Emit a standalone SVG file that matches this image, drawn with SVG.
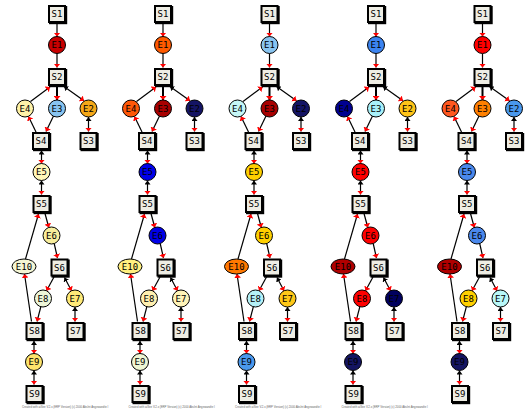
<svg xmlns="http://www.w3.org/2000/svg" width="529" height="410" viewBox="0 0 529 410">
<defs>
<style>
.bx .sh{fill:#000}
.bx .f{fill:#eeede4;stroke:#000;stroke-width:2}
.nd circle,.nd ellipse{stroke:#000;stroke-width:1}
text{font-family:"DejaVu Sans Mono","Liberation Mono",monospace;font-size:9px;text-anchor:middle;fill:#000}
.e{fill:none;stroke:#000;stroke-width:1.2}
.r{marker-end:url(#ar)}
.b{marker-start:url(#ab)}
.w{stroke-width:2}
.cr{font-family:"Liberation Sans",sans-serif;font-size:2.8px;text-anchor:start;fill:#666}
</style>
<marker id="ar" viewBox="0 0 4 7" refX="4" refY="3.5" markerWidth="4" markerHeight="7" markerUnits="userSpaceOnUse" orient="auto"><path d="M0,0 L4,3.5 L0,7 z" fill="#ff0000"/></marker>
<marker id="ab" viewBox="0 0 4 6" refX="4" refY="3" markerWidth="4" markerHeight="6" markerUnits="userSpaceOnUse" orient="auto-start-reverse"><path d="M0,0 L4,3 L0,6 z" fill="#000"/></marker>
</defs>
<rect width="529" height="410" fill="#ffffff"/>

<!-- PANEL 1 -->
<g id="panel1" transform="translate(0,0)">
<g id="p1-edges">
<path class="e r" d="M57,23.5 L57,36.5"/>
<path class="e r" d="M57,53.5 L57,67.5"/>
<path class="e r" d="M30.5,101.5 L50,87"/>
<path class="e r w" d="M57,86.5 L57,100"/>
<path class="e b r" d="M64,86.5 L84,100.8"/>
<path class="e r" d="M36,132 L28.5,116.5"/>
<path class="e r" d="M53.5,116 L46,131.5"/>
<path class="e b r" d="M88.5,117 L88.5,131.5"/>
<path class="e b r" d="M41.5,150.5 L41.5,163.5"/>
<path class="e b r" d="M41.5,180.5 L41.5,194.5"/>
<path class="e r" d="M45,213.5 L48.8,227.5"/>
<path class="e r" d="M54.2,243.5 L57.5,258"/>
<path class="e r" d="M25.5,259 L38.5,214"/>
<path class="e r" d="M31.5,321.5 L24.5,274"/>
<path class="e r" d="M54,277 L46.5,290.8"/>
<path class="e b r" d="M64.5,277.5 L71.5,290.8"/>
<path class="e r" d="M40.8,306.8 L37,321.5"/>
<path class="e b r" d="M75,307 L75,321.5"/>
<path class="e b r" d="M34,341 L34,353.5"/>
<path class="e b r" d="M34,370.5 L34,384.5"/>
</g>
<g id="p1-S1" class="bx"><rect class="sh" x="49" y="6" width="18.2" height="18.2"/><rect class="f" x="49" y="6" width="16" height="16"/><text x="57" y="17.2">S1</text></g>
<g id="p1-E1" class="nd"><circle cx="57" cy="45" r="8.5" fill="#c80000"/><text x="57" y="48.2">E1</text></g>
<g id="p1-S2" class="bx"><rect class="sh" x="49" y="69" width="18.2" height="18.2"/><rect class="f" x="49" y="69" width="16" height="16"/><text x="57" y="80.2">S2</text></g>
<g id="p1-E4" class="nd"><circle cx="25" cy="108.5" r="8.5" fill="#fff2a8"/><text x="25" y="111.7">E4</text></g>
<g id="p1-E3" class="nd"><circle cx="57" cy="108.5" r="8.5" fill="#88c4f0"/><text x="57" y="111.7">E3</text></g>
<g id="p1-E2" class="nd"><circle cx="88.5" cy="108.5" r="8.5" fill="#f5a818"/><text x="88.5" y="111.7">E2</text></g>
<g id="p1-S4" class="bx"><rect class="sh" x="33" y="133" width="18.2" height="18.2"/><rect class="f" x="33" y="133" width="16" height="16"/><text x="41" y="144.2">S4</text></g>
<g id="p1-S3" class="bx"><rect class="sh" x="80.5" y="133" width="18.2" height="18.2"/><rect class="f" x="80.5" y="133" width="16" height="16"/><text x="88.5" y="144.2">S3</text></g>
<g id="p1-E5" class="nd"><circle cx="41.5" cy="172" r="8.5" fill="#fff7b8"/><text x="41.5" y="175.2">E5</text></g>
<g id="p1-S5" class="bx"><rect class="sh" x="33.5" y="196" width="18.2" height="18.2"/><rect class="f" x="33.5" y="196" width="16" height="16"/><text x="41.5" y="207.2">S5</text></g>
<g id="p1-E6" class="nd"><circle cx="51.5" cy="235.5" r="8.5" fill="#f8ee9c"/><text x="51.5" y="238.7">E6</text></g>
<g id="p1-E10" class="nd"><ellipse cx="24" cy="266.5" rx="12" ry="7.5" fill="#f4f6d4"/><text x="24" y="269.7">E10</text></g>
<g id="p1-S6" class="bx"><rect class="sh" x="51.5" y="259.5" width="18.2" height="18.2"/><rect class="f" x="51.5" y="259.5" width="16" height="16"/><text x="59.5" y="270.7">S6</text></g>
<g id="p1-E8" class="nd"><circle cx="43" cy="298.5" r="8.5" fill="#eef6d8"/><text x="43" y="301.7">E8</text></g>
<g id="p1-E7" class="nd"><circle cx="75" cy="298.5" r="8.5" fill="#ffea78"/><text x="75" y="301.7">E7</text></g>
<g id="p1-S8" class="bx"><rect class="sh" x="26.5" y="323" width="18.2" height="18.2"/><rect class="f" x="26.5" y="323" width="16" height="16"/><text x="34.5" y="334.2">S8</text></g>
<g id="p1-S7" class="bx"><rect class="sh" x="67.5" y="323" width="18.2" height="18.2"/><rect class="f" x="67.5" y="323" width="16" height="16"/><text x="75.5" y="334.2">S7</text></g>
<g id="p1-E9" class="nd"><circle cx="34" cy="362" r="8.5" fill="#fde46c"/><text x="34" y="365.2">E9</text></g>
<g id="p1-S9" class="bx"><rect class="sh" x="26.5" y="386" width="18.2" height="18.2"/><rect class="f" x="26.5" y="386" width="16" height="16"/><text x="34.5" y="397.2">S9</text></g>
</g>

<!-- PANEL 2 -->
<g id="panel2" transform="translate(106,0)">
<g id="p2-edges">
<path class="e r" d="M57,23.5 L57,36.5"/>
<path class="e r" d="M57,53.5 L57,67.5"/>
<path class="e r" d="M30.5,101.5 L50,87"/>
<path class="e r w" d="M57,86.5 L57,100"/>
<path class="e b r" d="M64,86.5 L84,100.8"/>
<path class="e r" d="M36,132 L28.5,116.5"/>
<path class="e r" d="M53.5,116 L46,131.5"/>
<path class="e b r" d="M88.5,117 L88.5,131.5"/>
<path class="e b r" d="M41.5,150.5 L41.5,163.5"/>
<path class="e b r" d="M41.5,180.5 L41.5,194.5"/>
<path class="e r" d="M45,213.5 L48.8,227.5"/>
<path class="e r" d="M54.2,243.5 L57.5,258"/>
<path class="e r" d="M25.5,259 L38.5,214"/>
<path class="e r" d="M31.5,321.5 L24.5,274"/>
<path class="e r" d="M54,277 L46.5,290.8"/>
<path class="e b r" d="M64.5,277.5 L71.5,290.8"/>
<path class="e r" d="M40.8,306.8 L37,321.5"/>
<path class="e b r" d="M75,307 L75,321.5"/>
<path class="e b r" d="M34,341 L34,353.5"/>
<path class="e b r" d="M34,370.5 L34,384.5"/>
</g>
<g id="p2-S1" class="bx"><rect class="sh" x="49" y="6" width="18.2" height="18.2"/><rect class="f" x="49" y="6" width="16" height="16"/><text x="57" y="17.2">S1</text></g>
<g id="p2-E1" class="nd"><circle cx="57" cy="45" r="8.5" fill="#ff5a00"/><text x="57" y="48.2">E1</text></g>
<g id="p2-S2" class="bx"><rect class="sh" x="49" y="69" width="18.2" height="18.2"/><rect class="f" x="49" y="69" width="16" height="16"/><text x="57" y="80.2">S2</text></g>
<g id="p2-E4" class="nd"><circle cx="25" cy="108.5" r="8.5" fill="#ff5808"/><text x="25" y="111.7">E4</text></g>
<g id="p2-E3" class="nd"><circle cx="57" cy="108.5" r="8.5" fill="#a80000"/><text x="57" y="111.7">E3</text></g>
<g id="p2-E2" class="nd"><circle cx="88.5" cy="108.5" r="8.5" fill="#141464"/><text x="88.5" y="111.7">E2</text></g>
<g id="p2-S4" class="bx"><rect class="sh" x="33" y="133" width="18.2" height="18.2"/><rect class="f" x="33" y="133" width="16" height="16"/><text x="41" y="144.2">S4</text></g>
<g id="p2-S3" class="bx"><rect class="sh" x="80.5" y="133" width="18.2" height="18.2"/><rect class="f" x="80.5" y="133" width="16" height="16"/><text x="88.5" y="144.2">S3</text></g>
<g id="p2-E5" class="nd"><circle cx="41.5" cy="172" r="8.5" fill="#0000e8"/><text x="41.5" y="175.2">E5</text></g>
<g id="p2-S5" class="bx"><rect class="sh" x="33.5" y="196" width="18.2" height="18.2"/><rect class="f" x="33.5" y="196" width="16" height="16"/><text x="41.5" y="207.2">S5</text></g>
<g id="p2-E6" class="nd"><circle cx="51.5" cy="235.5" r="8.5" fill="#0000e8"/><text x="51.5" y="238.7">E6</text></g>
<g id="p2-E10" class="nd"><ellipse cx="24" cy="266.5" rx="12" ry="7.5" fill="#fff080"/><text x="24" y="269.7">E10</text></g>
<g id="p2-S6" class="bx"><rect class="sh" x="51.5" y="259.5" width="18.2" height="18.2"/><rect class="f" x="51.5" y="259.5" width="16" height="16"/><text x="59.5" y="270.7">S6</text></g>
<g id="p2-E8" class="nd"><circle cx="43" cy="298.5" r="8.5" fill="#fff0b0"/><text x="43" y="301.7">E8</text></g>
<g id="p2-E7" class="nd"><circle cx="75" cy="298.5" r="8.5" fill="#fff4b8"/><text x="75" y="301.7">E7</text></g>
<g id="p2-S8" class="bx"><rect class="sh" x="26.5" y="323" width="18.2" height="18.2"/><rect class="f" x="26.5" y="323" width="16" height="16"/><text x="34.5" y="334.2">S8</text></g>
<g id="p2-S7" class="bx"><rect class="sh" x="67.5" y="323" width="18.2" height="18.2"/><rect class="f" x="67.5" y="323" width="16" height="16"/><text x="75.5" y="334.2">S7</text></g>
<g id="p2-E9" class="nd"><circle cx="34" cy="362" r="8.5" fill="#eef6d4"/><text x="34" y="365.2">E9</text></g>
<g id="p2-S9" class="bx"><rect class="sh" x="26.5" y="386" width="18.2" height="18.2"/><rect class="f" x="26.5" y="386" width="16" height="16"/><text x="34.5" y="397.2">S9</text></g>
</g>

<!-- PANEL 3 -->
<g id="panel3" transform="translate(212.5,0)">
<g id="p3-edges">
<path class="e r" d="M57,23.5 L57,36.5"/>
<path class="e r" d="M57,53.5 L57,67.5"/>
<path class="e r" d="M30.5,101.5 L50,87"/>
<path class="e r w" d="M57,86.5 L57,100"/>
<path class="e b r" d="M64,86.5 L84,100.8"/>
<path class="e r" d="M36,132 L28.5,116.5"/>
<path class="e r" d="M53.5,116 L46,131.5"/>
<path class="e b r" d="M88.5,117 L88.5,131.5"/>
<path class="e b r" d="M41.5,150.5 L41.5,163.5"/>
<path class="e b r" d="M41.5,180.5 L41.5,194.5"/>
<path class="e r" d="M45,213.5 L48.8,227.5"/>
<path class="e r" d="M54.2,243.5 L57.5,258"/>
<path class="e r" d="M25.5,259 L38.5,214"/>
<path class="e r" d="M31.5,321.5 L24.5,274"/>
<path class="e r" d="M54,277 L46.5,290.8"/>
<path class="e b r" d="M64.5,277.5 L71.5,290.8"/>
<path class="e r" d="M40.8,306.8 L37,321.5"/>
<path class="e b r" d="M75,307 L75,321.5"/>
<path class="e b r" d="M34,341 L34,353.5"/>
<path class="e b r" d="M34,370.5 L34,384.5"/>
</g>
<g id="p3-S1" class="bx"><rect class="sh" x="49" y="6" width="18.2" height="18.2"/><rect class="f" x="49" y="6" width="16" height="16"/><text x="57" y="17.2">S1</text></g>
<g id="p3-E1" class="nd"><circle cx="57" cy="45" r="8.5" fill="#88c4f0"/><text x="57" y="48.2">E1</text></g>
<g id="p3-S2" class="bx"><rect class="sh" x="49" y="69" width="18.2" height="18.2"/><rect class="f" x="49" y="69" width="16" height="16"/><text x="57" y="80.2">S2</text></g>
<g id="p3-E4" class="nd"><circle cx="25" cy="108.5" r="8.5" fill="#c4f6f6"/><text x="25" y="111.7">E4</text></g>
<g id="p3-E3" class="nd"><circle cx="57" cy="108.5" r="8.5" fill="#a80000"/><text x="57" y="111.7">E3</text></g>
<g id="p3-E2" class="nd"><circle cx="88.5" cy="108.5" r="8.5" fill="#141464"/><text x="88.5" y="111.7">E2</text></g>
<g id="p3-S4" class="bx"><rect class="sh" x="33" y="133" width="18.2" height="18.2"/><rect class="f" x="33" y="133" width="16" height="16"/><text x="41" y="144.2">S4</text></g>
<g id="p3-S3" class="bx"><rect class="sh" x="80.5" y="133" width="18.2" height="18.2"/><rect class="f" x="80.5" y="133" width="16" height="16"/><text x="88.5" y="144.2">S3</text></g>
<g id="p3-E5" class="nd"><circle cx="41.5" cy="172" r="8.5" fill="#ffd000"/><text x="41.5" y="175.2">E5</text></g>
<g id="p3-S5" class="bx"><rect class="sh" x="33.5" y="196" width="18.2" height="18.2"/><rect class="f" x="33.5" y="196" width="16" height="16"/><text x="41.5" y="207.2">S5</text></g>
<g id="p3-E6" class="nd"><circle cx="51.5" cy="235.5" r="8.5" fill="#ffd000"/><text x="51.5" y="238.7">E6</text></g>
<g id="p3-E10" class="nd"><ellipse cx="24" cy="266.5" rx="12" ry="7.5" fill="#ff7800"/><text x="24" y="269.7">E10</text></g>
<g id="p3-S6" class="bx"><rect class="sh" x="51.5" y="259.5" width="18.2" height="18.2"/><rect class="f" x="51.5" y="259.5" width="16" height="16"/><text x="59.5" y="270.7">S6</text></g>
<g id="p3-E8" class="nd"><circle cx="43" cy="298.5" r="8.5" fill="#b4f0f6"/><text x="43" y="301.7">E8</text></g>
<g id="p3-E7" class="nd"><circle cx="75" cy="298.5" r="8.5" fill="#ffc818"/><text x="75" y="301.7">E7</text></g>
<g id="p3-S8" class="bx"><rect class="sh" x="26.5" y="323" width="18.2" height="18.2"/><rect class="f" x="26.5" y="323" width="16" height="16"/><text x="34.5" y="334.2">S8</text></g>
<g id="p3-S7" class="bx"><rect class="sh" x="67.5" y="323" width="18.2" height="18.2"/><rect class="f" x="67.5" y="323" width="16" height="16"/><text x="75.5" y="334.2">S7</text></g>
<g id="p3-E9" class="nd"><circle cx="34" cy="362" r="8.5" fill="#4a98ec"/><text x="34" y="365.2">E9</text></g>
<g id="p3-S9" class="bx"><rect class="sh" x="26.5" y="386" width="18.2" height="18.2"/><rect class="f" x="26.5" y="386" width="16" height="16"/><text x="34.5" y="397.2">S9</text></g>
</g>

<!-- PANEL 4 -->
<g id="panel4" transform="translate(319,0)">
<g id="p4-edges">
<path class="e r" d="M57,23.5 L57,36.5"/>
<path class="e r" d="M57,53.5 L57,67.5"/>
<path class="e r" d="M30.5,101.5 L50,87"/>
<path class="e r w" d="M57,86.5 L57,100"/>
<path class="e b r" d="M64,86.5 L84,100.8"/>
<path class="e r" d="M36,132 L28.5,116.5"/>
<path class="e r" d="M53.5,116 L46,131.5"/>
<path class="e b r" d="M88.5,117 L88.5,131.5"/>
<path class="e b r" d="M41.5,150.5 L41.5,163.5"/>
<path class="e b r" d="M41.5,180.5 L41.5,194.5"/>
<path class="e r" d="M45,213.5 L48.8,227.5"/>
<path class="e r" d="M54.2,243.5 L57.5,258"/>
<path class="e r" d="M25.5,259 L38.5,214"/>
<path class="e r" d="M31.5,321.5 L24.5,274"/>
<path class="e r" d="M54,277 L46.5,290.8"/>
<path class="e b r" d="M64.5,277.5 L71.5,290.8"/>
<path class="e r" d="M40.8,306.8 L37,321.5"/>
<path class="e b r" d="M75,307 L75,321.5"/>
<path class="e b r" d="M34,341 L34,353.5"/>
<path class="e b r" d="M34,370.5 L34,384.5"/>
</g>
<g id="p4-S1" class="bx"><rect class="sh" x="49" y="6" width="18.2" height="18.2"/><rect class="f" x="49" y="6" width="16" height="16"/><text x="57" y="17.2">S1</text></g>
<g id="p4-E1" class="nd"><circle cx="57" cy="45" r="8.5" fill="#3c84f0"/><text x="57" y="48.2">E1</text></g>
<g id="p4-S2" class="bx"><rect class="sh" x="49" y="69" width="18.2" height="18.2"/><rect class="f" x="49" y="69" width="16" height="16"/><text x="57" y="80.2">S2</text></g>
<g id="p4-E4" class="nd"><circle cx="25" cy="108.5" r="8.5" fill="#000090"/><text x="25" y="111.7">E4</text></g>
<g id="p4-E3" class="nd"><circle cx="57" cy="108.5" r="8.5" fill="#a8f0f8"/><text x="57" y="111.7">E3</text></g>
<g id="p4-E2" class="nd"><circle cx="88.5" cy="108.5" r="8.5" fill="#ffc418"/><text x="88.5" y="111.7">E2</text></g>
<g id="p4-S4" class="bx"><rect class="sh" x="33" y="133" width="18.2" height="18.2"/><rect class="f" x="33" y="133" width="16" height="16"/><text x="41" y="144.2">S4</text></g>
<g id="p4-S3" class="bx"><rect class="sh" x="80.5" y="133" width="18.2" height="18.2"/><rect class="f" x="80.5" y="133" width="16" height="16"/><text x="88.5" y="144.2">S3</text></g>
<g id="p4-E5" class="nd"><circle cx="41.5" cy="172" r="8.5" fill="#ff0000"/><text x="41.5" y="175.2">E5</text></g>
<g id="p4-S5" class="bx"><rect class="sh" x="33.5" y="196" width="18.2" height="18.2"/><rect class="f" x="33.5" y="196" width="16" height="16"/><text x="41.5" y="207.2">S5</text></g>
<g id="p4-E6" class="nd"><circle cx="51.5" cy="235.5" r="8.5" fill="#ff0000"/><text x="51.5" y="238.7">E6</text></g>
<g id="p4-E10" class="nd"><ellipse cx="24" cy="266.5" rx="12" ry="7.5" fill="#b00000"/><text x="24" y="269.7">E10</text></g>
<g id="p4-S6" class="bx"><rect class="sh" x="51.5" y="259.5" width="18.2" height="18.2"/><rect class="f" x="51.5" y="259.5" width="16" height="16"/><text x="59.5" y="270.7">S6</text></g>
<g id="p4-E8" class="nd"><circle cx="43" cy="298.5" r="8.5" fill="#ff0000"/><text x="43" y="301.7">E8</text></g>
<g id="p4-E7" class="nd"><circle cx="75" cy="298.5" r="8.5" fill="#00005e"/><text x="75" y="301.7">E7</text></g>
<g id="p4-S8" class="bx"><rect class="sh" x="26.5" y="323" width="18.2" height="18.2"/><rect class="f" x="26.5" y="323" width="16" height="16"/><text x="34.5" y="334.2">S8</text></g>
<g id="p4-S7" class="bx"><rect class="sh" x="67.5" y="323" width="18.2" height="18.2"/><rect class="f" x="67.5" y="323" width="16" height="16"/><text x="75.5" y="334.2">S7</text></g>
<g id="p4-E9" class="nd"><circle cx="34" cy="362" r="8.5" fill="#141460"/><text x="34" y="365.2">E9</text></g>
<g id="p4-S9" class="bx"><rect class="sh" x="26.5" y="386" width="18.2" height="18.2"/><rect class="f" x="26.5" y="386" width="16" height="16"/><text x="34.5" y="397.2">S9</text></g>
</g>

<!-- PANEL 5 -->
<g id="panel5" transform="translate(425.5,0)">
<g id="p5-edges">
<path class="e r" d="M57,23.5 L57,36.5"/>
<path class="e r" d="M57,53.5 L57,67.5"/>
<path class="e r" d="M30.5,101.5 L50,87"/>
<path class="e r w" d="M57,86.5 L57,100"/>
<path class="e b r" d="M64,86.5 L84,100.8"/>
<path class="e r" d="M36,132 L28.5,116.5"/>
<path class="e r" d="M53.5,116 L46,131.5"/>
<path class="e b r" d="M88.5,117 L88.5,131.5"/>
<path class="e b r" d="M41.5,150.5 L41.5,163.5"/>
<path class="e b r" d="M41.5,180.5 L41.5,194.5"/>
<path class="e r" d="M45,213.5 L48.8,227.5"/>
<path class="e r" d="M54.2,243.5 L57.5,258"/>
<path class="e r" d="M25.5,259 L38.5,214"/>
<path class="e r" d="M31.5,321.5 L24.5,274"/>
<path class="e r" d="M54,277 L46.5,290.8"/>
<path class="e b r" d="M64.5,277.5 L71.5,290.8"/>
<path class="e r" d="M40.8,306.8 L37,321.5"/>
<path class="e b r" d="M75,307 L75,321.5"/>
<path class="e b r" d="M34,341 L34,353.5"/>
<path class="e b r" d="M34,370.5 L34,384.5"/>
</g>
<g id="p5-S1" class="bx"><rect class="sh" x="49" y="6" width="18.2" height="18.2"/><rect class="f" x="49" y="6" width="16" height="16"/><text x="57" y="17.2">S1</text></g>
<g id="p5-E1" class="nd"><circle cx="57" cy="45" r="8.5" fill="#ff0000"/><text x="57" y="48.2">E1</text></g>
<g id="p5-S2" class="bx"><rect class="sh" x="49" y="69" width="18.2" height="18.2"/><rect class="f" x="49" y="69" width="16" height="16"/><text x="57" y="80.2">S2</text></g>
<g id="p5-E4" class="nd"><circle cx="25" cy="108.5" r="8.5" fill="#ff5820"/><text x="25" y="111.7">E4</text></g>
<g id="p5-E3" class="nd"><circle cx="57" cy="108.5" r="8.5" fill="#ff8000"/><text x="57" y="111.7">E3</text></g>
<g id="p5-E2" class="nd"><circle cx="88.5" cy="108.5" r="8.5" fill="#4a98ec"/><text x="88.5" y="111.7">E2</text></g>
<g id="p5-S4" class="bx"><rect class="sh" x="33" y="133" width="18.2" height="18.2"/><rect class="f" x="33" y="133" width="16" height="16"/><text x="41" y="144.2">S4</text></g>
<g id="p5-S3" class="bx"><rect class="sh" x="80.5" y="133" width="18.2" height="18.2"/><rect class="f" x="80.5" y="133" width="16" height="16"/><text x="88.5" y="144.2">S3</text></g>
<g id="p5-E5" class="nd"><circle cx="41.5" cy="172" r="8.5" fill="#4a88ec"/><text x="41.5" y="175.2">E5</text></g>
<g id="p5-S5" class="bx"><rect class="sh" x="33.5" y="196" width="18.2" height="18.2"/><rect class="f" x="33.5" y="196" width="16" height="16"/><text x="41.5" y="207.2">S5</text></g>
<g id="p5-E6" class="nd"><circle cx="51.5" cy="235.5" r="8.5" fill="#4a88ec"/><text x="51.5" y="238.7">E6</text></g>
<g id="p5-E10" class="nd"><ellipse cx="24" cy="266.5" rx="12" ry="7.5" fill="#b00000"/><text x="24" y="269.7">E10</text></g>
<g id="p5-S6" class="bx"><rect class="sh" x="51.5" y="259.5" width="18.2" height="18.2"/><rect class="f" x="51.5" y="259.5" width="16" height="16"/><text x="59.5" y="270.7">S6</text></g>
<g id="p5-E8" class="nd"><circle cx="43" cy="298.5" r="8.5" fill="#ffd000"/><text x="43" y="301.7">E8</text></g>
<g id="p5-E7" class="nd"><circle cx="75" cy="298.5" r="8.5" fill="#b8f8f8"/><text x="75" y="301.7">E7</text></g>
<g id="p5-S8" class="bx"><rect class="sh" x="26.5" y="323" width="18.2" height="18.2"/><rect class="f" x="26.5" y="323" width="16" height="16"/><text x="34.5" y="334.2">S8</text></g>
<g id="p5-S7" class="bx"><rect class="sh" x="67.5" y="323" width="18.2" height="18.2"/><rect class="f" x="67.5" y="323" width="16" height="16"/><text x="75.5" y="334.2">S7</text></g>
<g id="p5-E9" class="nd"><circle cx="34" cy="362" r="8.5" fill="#141460"/><text x="34" y="365.2">E9</text></g>
<g id="p5-S9" class="bx"><rect class="sh" x="26.5" y="386" width="18.2" height="18.2"/><rect class="f" x="26.5" y="386" width="16" height="16"/><text x="34.5" y="397.2">S9</text></g>
</g>

<g id="credits">
<text class="cr" x="22" y="407.5">Created with aiSee V.2.x (ERP Version) (c) 2000 AbsInt Angewandte I</text>
<text class="cr" x="128.5" y="407.5">Created with aiSee V.2.x (ERP Version) (c) 2000 AbsInt Angewandte I</text>
<text class="cr" x="235" y="407.5">Created with aiSee V.2.x (ERP Version) (c) 2000 AbsInt Angewandte I</text>
<text class="cr" x="341.5" y="407.5">Created with aiSee V.2.x (ERP Version) (c) 2000 AbsInt Angewandte I</text>
</g>
</svg>
